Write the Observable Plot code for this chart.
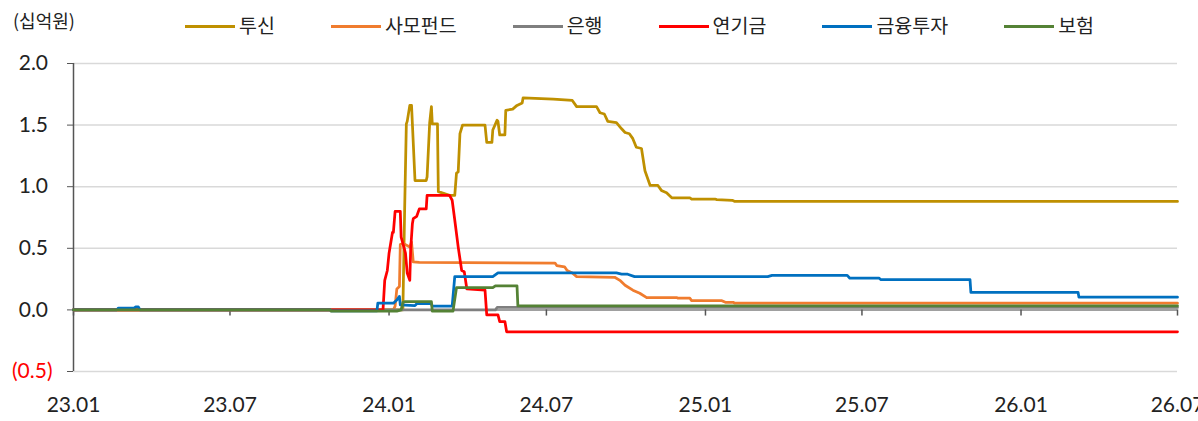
<!DOCTYPE html>
<html>
<head>
<meta charset="utf-8">
<script src="https://cdn.jsdelivr.net/npm/d3@7"></script>
<script src="https://cdn.jsdelivr.net/npm/@observablehq/plot@0.6"></script>
<style>
  body { margin: 0; background: #fff; width: 1198px; height: 421px; overflow: hidden; font-family: "Noto Sans CJK KR", "Noto Sans", sans-serif; color: #222; }
  #header { position: relative; height: 45px; }
  #unit { position: absolute; left: 13px; top: 6px; font-size: 18px; line-height: 28px; }
  #legend { position: absolute; left: 185px; top: 10px; display: flex; gap: 56px; font-size: 19.5px; line-height: 30px; }
  .item { display: flex; align-items: center; }
  .sw { width: 50px; height: 3px; margin-right: 4px; margin-top: 2px; }
</style>
</head>
<body>
<div id="header">
  <div id="unit">(십억원)</div>
  <div id="legend"></div>
</div>
<div id="chart"></div>
<script>
// ---- data (values in 십억원) ----
const tusin = [
  ["2023-01-01",0],["2024-01-17",0],["2024-01-19",0.8],["2024-01-21",1.51],["2024-01-22",1.53],
  ["2024-01-25",1.66],["2024-01-27",1.66],["2024-01-28",1.51],["2024-01-31",1.05],["2024-02-13",1.05],
  ["2024-02-14",1.08],["2024-02-17",1.52],["2024-02-19",1.65],["2024-02-20",1.51],["2024-02-26",1.51],
  ["2024-02-27",0.96],["2024-03-11",0.93],["2024-03-17",0.93],["2024-03-19",1.11],["2024-03-21",1.12],
  ["2024-03-23",1.43],["2024-03-26",1.50],["2024-04-21",1.50],["2024-04-23",1.36],["2024-04-29",1.36],
  ["2024-04-30",1.46],["2024-05-05",1.54],["2024-05-06",1.53],["2024-05-08",1.42],["2024-05-14",1.42],
  ["2024-05-15",1.62],["2024-05-23",1.63],["2024-05-28",1.66],["2024-06-03",1.68],["2024-06-04",1.72],
  ["2024-07-09",1.71],["2024-07-31",1.70],["2024-08-05",1.65],["2024-08-28",1.65],["2024-09-01",1.60],
  ["2024-09-06",1.59],["2024-09-10",1.53],["2024-09-20",1.52],["2024-09-26",1.47],["2024-09-30",1.44],
  ["2024-10-05",1.43],["2024-10-09",1.39],["2024-10-13",1.32],["2024-10-19",1.31],["2024-10-23",1.13],
  ["2024-10-29",1.01],["2024-11-07",1.01],["2024-11-11",0.97],["2024-11-17",0.95],["2024-11-23",0.91],
  ["2024-12-14",0.91],["2024-12-16",0.90],["2025-01-12",0.90],["2025-01-14",0.895],["2025-02-01",0.89],
  ["2025-02-04",0.88],["2026-07-01",0.88]
];
const samo = [
  ["2023-01-01",0],["2024-01-06",0],["2024-01-08",0.03],["2024-01-10",0.17],["2024-01-13",0.19],
  ["2024-01-14",0.53],["2024-01-17",0.54],["2024-01-20",0.53],["2024-01-25",0.51],["2024-01-27",0.55],
  ["2024-01-29",0.39],["2024-02-05",0.385],["2024-07-11",0.38],["2024-07-13",0.36],["2024-07-22",0.35],
  ["2024-07-25",0.32],["2024-07-31",0.30],["2024-08-05",0.27],["2024-09-18",0.265],["2024-09-24",0.24],
  ["2024-09-30",0.20],["2024-10-09",0.16],["2024-10-17",0.135],["2024-10-25",0.10],["2024-11-29",0.10],
  ["2024-11-30",0.095],["2024-12-14",0.095],["2024-12-16",0.075],["2025-01-20",0.075],["2025-01-24",0.062],
  ["2025-02-02",0.062],["2025-02-04",0.054],["2026-07-01",0.054]
];
const bank = [
  ["2023-01-01",0],["2024-05-03",0],["2024-05-05",0.02],["2026-07-01",0.02]
];
const pension = [
  ["2023-01-01",0],["2023-12-25",0],["2023-12-27",0.24],["2023-12-30",0.32],["2024-01-01",0.46],
  ["2024-01-05",0.63],["2024-01-06",0.63],["2024-01-08",0.80],["2024-01-14",0.80],["2024-01-15",0.59],
  ["2024-01-20",0.46],["2024-01-22",0.30],["2024-01-25",0.24],["2024-01-26",0.49],["2024-01-28",0.70],
  ["2024-01-29",0.74],["2024-02-02",0.76],["2024-02-05",0.82],["2024-02-13",0.82],["2024-02-14",0.93],
  ["2024-03-11",0.93],["2024-03-14",0.89],["2024-03-17",0.73],["2024-03-21",0.51],["2024-03-25",0.32],
  ["2024-03-28",0.31],["2024-03-31",0.17],["2024-04-21",0.16],["2024-04-23",-0.04],["2024-05-06",-0.04],
  ["2024-05-08",-0.095],["2024-05-14",-0.095],["2024-05-16",-0.178],["2026-07-01",-0.178]
];
const finInv = [
  ["2023-01-01",0],["2023-02-20",0],["2023-02-22",0.015],["2023-03-12",0.015],["2023-03-14",0.025],
  ["2023-03-17",0.025],["2023-03-19",0],["2023-10-25",0],["2023-10-26",-0.008],["2023-12-18",-0.008],
  ["2023-12-19",0.054],["2024-01-06",0.054],["2024-01-10",0.08],["2024-01-13",0.11],["2024-01-14",0.04],
  ["2024-01-31",0.035],["2024-02-02",0.05],["2024-02-19",0.05],["2024-02-20",0.03],["2024-03-14",0.03],
  ["2024-03-17",0.27],["2024-04-30",0.27],["2024-05-06",0.30],["2024-09-20",0.30],["2024-09-26",0.29],
  ["2024-10-03",0.29],["2024-10-11",0.27],["2025-03-14",0.27],["2025-03-19",0.28],["2025-06-14",0.28],
  ["2025-06-17",0.257],["2025-07-21",0.257],["2025-07-23",0.245],["2025-11-03",0.245],["2025-11-04",0.143],
  ["2026-03-08",0.143],["2026-03-09",0.103],["2026-07-01",0.103]
];
const insurance = [
  ["2023-01-01",0],["2023-10-25",0],["2023-10-26",-0.01],["2024-01-10",-0.01],["2024-01-15",0],
  ["2024-01-17",0.06],["2024-01-19",0.067],["2024-02-19",0.067],["2024-02-20",-0.01],["2024-03-15",-0.01],
  ["2024-03-19",0.18],["2024-04-30",0.18],["2024-05-03",0.195],["2024-05-28",0.195],["2024-05-29",0.033],
  ["2026-07-01",0.033]
];

const seriesNames  = ["투신","사모펀드","은행","연기금","금융투자","보험"];
const seriesColors = ["#BF9000","#F07C2E","#7F7F7F","#FF0000","#0070C0","#548235"];
const seriesData   = [tusin, samo, bank, pension, finInv, insurance];

const yTicks = [-0.5, 0, 0.5, 1.0, 1.5, 2.0];
const gridTicks = [-0.5, 0.5, 1.0, 1.5, 2.0];
const xTickDates = ["2023-01-01","2023-07-01","2024-01-01","2024-07-01","2025-01-01","2025-07-01","2026-01-01","2026-07-01"];
const xDomain = ["2023-01-01","2026-07-01"];

// ---- build ----
const parse = d3.utcParse("%Y-%m-%d");
const xT = xTickDates.map(parse);

const legend = document.getElementById("legend");
seriesNames.forEach((n, i) => {
  const it = document.createElement("div"); it.className = "item";
  const sw = document.createElement("div"); sw.className = "sw"; sw.style.background = seriesColors[i];
  const tx = document.createElement("span"); tx.textContent = n;
  it.appendChild(sw); it.appendChild(tx); legend.appendChild(it);
});

const fmt = v => v < 0 ? `(${Math.abs(v).toFixed(1)})` : v.toFixed(1) + "\u2008";

const lines = seriesData.map((s, i) => Plot.line(s, {
  x: d => parse(d[0]), y: d => d[1], stroke: seriesColors[i], strokeWidth: 2.75, strokeLinejoin: "round"
}));

const chart = Plot.plot({
  width: 1198,
  height: 376,
  marginTop: 18,
  marginBottom: 50,
  marginLeft: 73,
  marginRight: 21,
  style: { fontFamily: "Lato, 'Noto Sans CJK KR', sans-serif", fontSize: "21px", color: "#222", background: "#fff", overflow: "visible" },
  x: { type: "utc", domain: xDomain.map(parse) },
  y: { domain: [-0.5, 2.0] },
  marks: [
    Plot.gridY(gridTicks, { stroke: "#d9d9d9", strokeOpacity: 1, strokeWidth: 1.5 }),
    Plot.ruleY([0], { stroke: "#808080", strokeWidth: 1.5 }),
    Plot.ruleX(xT, { x: d => d, y1: 0, y2: -0.05, stroke: "#555", strokeWidth: 1.5 }),
    Plot.ruleX([xT[0]], { stroke: "#555", strokeWidth: 1.5 }),
    Plot.axisY({ ticks: yTicks, tickSize: 6, tickPadding: 15, tickFormat: fmt, fontSize: 21, stroke: "#555", fill: d => d < 0 ? "#FF0000" : "#222" }),
    Plot.axisX({ ticks: xT, tickSize: 0, tickPadding: 26, tickFormat: d3.utcFormat("%y.%m"), fontSize: 21, fill: "#222" }),
    ...lines
  ]
});
document.getElementById("chart").appendChild(chart);
</script>
</body>
</html>
